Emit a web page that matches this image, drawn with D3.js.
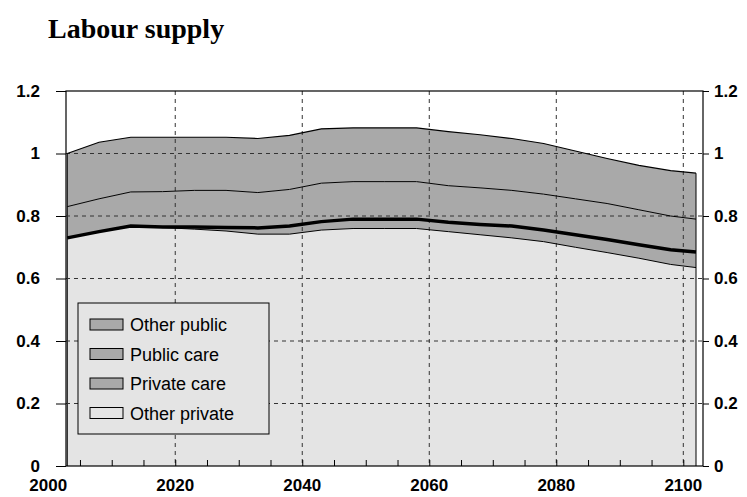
<!DOCTYPE html>
<html>
<head>
<script src="https://cdnjs.cloudflare.com/ajax/libs/d3/7.8.5/d3.min.js"></script>
<style>body{margin:0;background:#fff}</style>
</head>
<body>
<svg id="chart" width="747" height="497"></svg>
<script>
var years = [2003,2008,2013,2018,2023,2028,2033,2038,2043,2048,2053,2058,2063,2068,2073,2078,2083,2088,2093,2098,2102];
// cumulative upper bounds of each layer
var otherPrivateTop = [0.73,0.75,0.768,0.763,0.758,0.752,0.742,0.742,0.755,0.76,0.76,0.76,0.75,0.74,0.73,0.718,0.70,0.683,0.665,0.645,0.635];
var privateCareTop  = [0.73,0.75,0.768,0.765,0.765,0.763,0.762,0.768,0.782,0.79,0.79,0.79,0.78,0.773,0.768,0.755,0.74,0.725,0.708,0.692,0.685];
var publicCareTop   = [0.83,0.855,0.877,0.878,0.882,0.882,0.875,0.885,0.905,0.91,0.91,0.91,0.897,0.89,0.882,0.87,0.855,0.84,0.82,0.80,0.79];
var otherPublicTop  = [1.0,1.036,1.052,1.052,1.052,1.052,1.048,1.058,1.079,1.082,1.082,1.082,1.07,1.06,1.048,1.032,1.008,0.984,0.962,0.945,0.937];
var legendLabels = ["Other public","Public care","Private care","Other private"];
var yTicks = [0,0.2,0.4,0.6,0.8,1,1.2];
var xTicks = [2000,2020,2040,2060,2080,2100];

var svg = d3.select("#chart");
var pL = 66, pR = 703, pT = 91, pB = 466;
var x = d3.scaleLinear().domain([2002.8, 2103.1]).range([pL, pR]);
var y = d3.scaleLinear().domain([0, 1.2]).range([pB, pT]);

svg.append("text").attr("x", 48).attr("y", 38).text("Labour supply")
  .style("font-family", "Liberation Serif").style("font-weight", "bold").style("font-size", "28px");

var layers = [
  {lo: null, hi: otherPrivateTop, fill: "#e4e4e4"},
  {lo: otherPrivateTop, hi: privateCareTop, fill: "#a9a9a9"},
  {lo: privateCareTop, hi: publicCareTop, fill: "#a9a9a9"},
  {lo: publicCareTop, hi: otherPublicTop, fill: "#a9a9a9"}
];
layers.forEach(function(l) {
  var area = d3.area().x(function(d, i) { return x(years[i]); })
    .y0(function(d, i) { return l.lo ? y(l.lo[i]) : y(0); })
    .y1(function(d, i) { return y(l.hi[i]); });
  svg.append("path").attr("d", area(years)).attr("fill", l.fill);
});
// edges of the stacked block
[[2003, otherPublicTop[0]], [2102, otherPublicTop[otherPublicTop.length - 1]]].forEach(function(e) {
  svg.append("line").attr("x1", x(e[0])).attr("x2", x(e[0]))
    .attr("y1", y(0)).attr("y2", y(e[1])).attr("stroke", "#000").attr("stroke-width", 1);
});

// grid
svg.append("g").selectAll("line").data(yTicks.slice(1, -1)).join("line")
  .attr("x1", pL).attr("x2", pR).attr("y1", y).attr("y2", y)
  .attr("stroke", "#333").attr("stroke-dasharray", "4,4");
svg.append("g").selectAll("line").data(xTicks.slice(1)).join("line")
  .attr("x1", x).attr("x2", x).attr("y1", pT).attr("y2", pB)
  .attr("stroke", "#333").attr("stroke-dasharray", "4,4");

function line(vals, w) {
  var g = d3.line().x(function(d, i) { return x(years[i]); }).y(function(d) { return y(d); });
  svg.append("path").attr("d", g(vals)).attr("fill", "none").attr("stroke", "#000").attr("stroke-width", w);
}
line(otherPrivateTop, 1);
line(publicCareTop, 1);
line(otherPublicTop, 1.2);
line(privateCareTop, 3.5);

svg.append("rect").attr("x", pL).attr("y", pT).attr("width", pR - pL).attr("height", pB - pT)
  .attr("fill", "none").attr("stroke", "#000").attr("stroke-width", 1.2);

// axes
var fnt = function(s) { s.style("font-family", "Liberation Sans").style("font-weight", "bold").style("font-size", "17px"); };
var la = svg.append("g").attr("transform", "translate(" + pL + ",0)")
  .call(d3.axisLeft(y).tickValues(yTicks).tickSize(10).tickFormat(d3.format("")));
var ra = svg.append("g").attr("transform", "translate(" + pR + ",0)")
  .call(d3.axisRight(y).tickValues(yTicks).tickSize(6).tickPadding(5).tickFormat(d3.format("")));
var ba = svg.append("g").attr("transform", "translate(0," + pB + ")")
  .call(d3.axisBottom(x).tickValues(d3.range(2005, 2104, 5)).tickSize(-6).tickFormat(""));
svg.append("g").selectAll("text").data(xTicks).join("text")
  .attr("x", x).attr("y", 491).attr("text-anchor", "middle").text(function(d) { return d; }).call(fnt);
[la, ra, ba].forEach(function(a) { a.select(".domain").remove(); a.selectAll("line").attr("stroke", "#000"); a.selectAll("text").call(fnt).attr("fill", "#000"); });
la.selectAll("text").attr("x", -26);

// legend
var lg = svg.append("g").attr("transform", "translate(78,303)");
lg.append("rect").attr("width", 191).attr("height", 131).attr("fill", "#e4e4e4").attr("stroke", "#000");
legendLabels.forEach(function(t, i) {
  var yy = 22 + i * 29.5;
  lg.append("rect").attr("x", 12).attr("y", yy - 6).attr("width", 33).attr("height", 11)
    .attr("fill", i < 3 ? "#a9a9a9" : "#e4e4e4").attr("stroke", "#000");
  lg.append("text").attr("x", 52).attr("y", yy + 6).text(t)
    .style("font-family", "Liberation Sans").style("font-size", "18px");
});
</script>
</body>
</html>
